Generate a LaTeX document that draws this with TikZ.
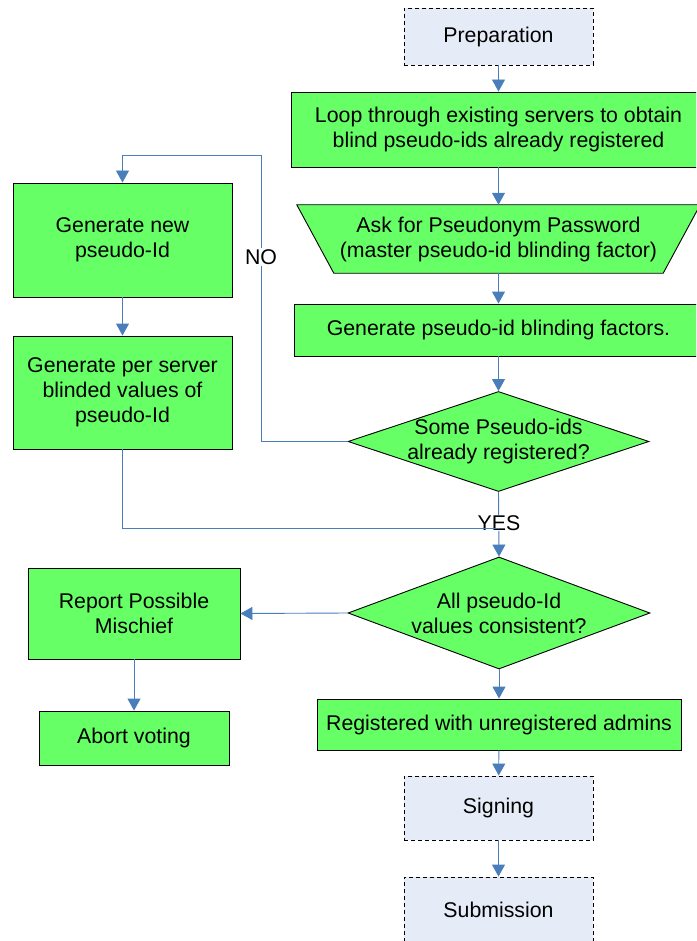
\documentclass[tikz,border=0pt]{standalone}
\usepackage{fontspec}
\setmainfont{Liberation Sans}
\usetikzlibrary{shapes.geometric,arrows.meta,backgrounds}

\definecolor{boxgreen}{RGB}{102,255,102}
\definecolor{phasefill}{RGB}{230,236,247}
\definecolor{linkblue}{RGB}{74,126,187}

\tikzset{
  every node/.style={font=\fontsize{21.3}{25}\selectfont},
  procbox/.style={draw=black, line width=0.9pt, fill=boxgreen, align=center,
                  inner sep=0pt, rectangle},
  phasebox/.style={draw=black, line width=0.9pt, fill=phasefill, align=center,
                   inner sep=0pt, dash pattern=on 4pt off 3pt, rectangle},
  decision/.style={draw=black, line width=0.9pt, fill=boxgreen, diamond,
                   inner sep=0pt},
  link/.style={draw=linkblue, line width=0.9pt,
               -{Triangle[length=12pt,width=13pt]}},
  plainlink/.style={draw=linkblue, line width=0.9pt},
  tag/.style={fill=white, inner sep=1pt}
}

\begin{document}
\begin{tikzpicture}[x=1pt, y=-1pt]
\useasboundingbox (0,0) rectangle (696,941);
\clip (0,0) rectangle (696,941);

% main column
\node[phasebox, minimum width=189pt, minimum height=57pt] (prep) at (498.5,36.5) {Preparation};
\node[procbox, minimum width=415pt, minimum height=75pt] (loop) at (498.5,129.5)
  {Loop through existing servers to obtain\\blind pseudo-ids already registered};
\node[rectangle, inner sep=0pt, align=center, minimum width=403pt, minimum height=68pt] (ask) at (498.5,239)
  {Ask for Pseudonym Password\\(master pseudo-id blinding factor)};
\begin{pgfonlayer}{background}
  \filldraw[fill=boxgreen, draw=black, line width=0.9pt]
    (ask.north west) -- (ask.north east) -- ([xshift=-37pt]ask.south east)
    -- ([xshift=37pt]ask.south west) -- cycle;
\end{pgfonlayer}
\node[procbox, minimum width=409pt, minimum height=52pt] (blind) at (498.5,330)
  {Generate pseudo-id blinding factors.};
\node[decision, minimum width=301pt, minimum height=100pt,
      label={[align=center]center:Some Pseudo-ids\\already registered?}] (d1) at (498.5,441.5) {};
\node[decision, minimum width=302pt, minimum height=112pt,
      label={[align=center]center:All pseudo-Id\\values consistent?}] (d2) at (499,613) {};
\node[procbox, minimum width=364pt, minimum height=51pt] (reg) at (499,724.5)
  {Registered with unregistered admins};
\node[phasebox, minimum width=189pt, minimum height=64pt] (sign) at (498.5,808) {Signing};
\node[phasebox, minimum width=189pt, minimum height=65pt] (subm) at (498.5,909.5) {Submission};

% left column
\node[procbox, minimum width=219pt, minimum height=114pt] (gnew) at (122.5,240)
  {Generate new\\pseudo-Id};
\node[procbox, minimum width=219pt, minimum height=113pt] (gper) at (122.5,392.5)
  {Generate per server\\blinded values of\\pseudo-Id};
\node[procbox, minimum width=212pt, minimum height=91pt] (rep) at (134,613.5)
  {Report Possible\\Mischief};
\node[procbox, minimum width=190pt, minimum height=54pt] (abort) at (134,738)
  {Abort voting};

% connectors
\draw[link] (prep) -- (loop);
\draw[link] (loop) -- (ask);
\draw[link] (ask) -- (blind);
\draw[link] (blind) -- (d1);

\coordinate (noturn) at (261,155);
\draw[link] (d1.west) -| (noturn) -| (gnew.north);
\node[tag] (no) at (261,257) {NO};

\draw[link] (gnew) -- (gper);

\draw[link] (d1.south) -- (d2.north);
\node[tag, inner sep=0pt] (yes) at (499,523) {YES};
\coordinate (merge) at (499,528);
\draw[plainlink] (gper.south) |- (merge);

\draw[link] (d2.west) -- (rep.east);
\draw[link] (rep) -- (abort);
\draw[link] (d2.south) -- (reg.north);
\draw[link] (reg) -- (sign);
\draw[link] (sign) -- (subm);
\end{tikzpicture}
\end{document}
